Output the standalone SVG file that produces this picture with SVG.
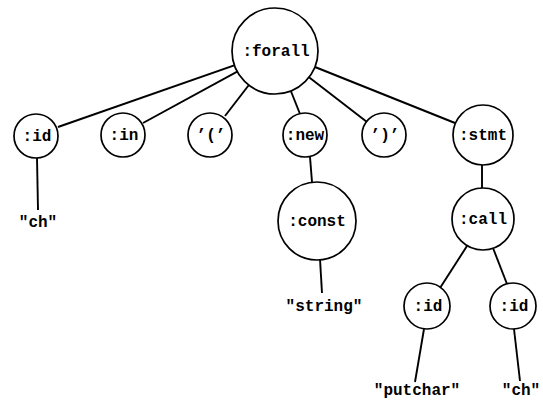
<svg xmlns="http://www.w3.org/2000/svg" width="543" height="401" viewBox="0 0 543 401">
<style>
.n{fill:#fff;stroke:#000;stroke-width:1.7}
.e{stroke:#000;stroke-width:1.9;fill:none}
text{font-family:"Liberation Mono","DejaVu Sans Mono",monospace;font-weight:bold;font-size:16px;text-anchor:middle;fill:#000}
</style>
<rect width="543" height="401" fill="#fff"/>
<g id="connectors">
<line class="e" x1="275" y1="51" x2="58" y2="127"/>
<line class="e" x1="275" y1="51" x2="143" y2="123"/>
<line class="e" x1="275" y1="51" x2="225" y2="116"/>
<line class="e" x1="275" y1="51" x2="300" y2="114"/>
<line class="e" x1="275" y1="51" x2="367" y2="122"/>
<line class="e" x1="275" y1="51" x2="455" y2="123"/>
<line class="e" x1="37" y1="158" x2="38" y2="210"/>
<line class="e" x1="310" y1="157" x2="312" y2="182"/>
<line class="e" x1="482" y1="165" x2="482" y2="189"/>
<line class="e" x1="320" y1="259" x2="322" y2="293"/>
<line class="e" x1="467" y1="246" x2="440" y2="288"/>
<line class="e" x1="493" y1="248" x2="507" y2="284"/>
<line class="e" x1="424" y1="329" x2="415" y2="382"/>
<line class="e" x1="514" y1="329" x2="520" y2="381"/>
</g>
<g id="forall"><circle class="n" cx="275" cy="51" r="43"/><text x="276" y="56">:forall</text></g>
<g id="id1"><circle class="n" cx="36" cy="136" r="22"/><text x="37" y="141">:id</text></g>
<g id="in"><circle class="n" cx="123" cy="135" r="22"/><text x="124" y="140">:in</text></g>
<g id="lparen"><circle class="n" cx="210" cy="135" r="22"/><text x="211" y="140">’(’</text></g>
<g id="new"><circle class="n" cx="305" cy="135" r="22"/><text x="305" y="140">:new</text></g>
<g id="rparen"><circle class="n" cx="384" cy="135" r="22"/><text x="385" y="140">’)’</text></g>
<g id="stmt"><circle class="n" cx="483" cy="135" r="30"/><text x="483" y="140">:stmt</text></g>
<g id="const"><circle class="n" cx="317" cy="221" r="39"/><text x="317" y="226">:const</text></g>
<g id="call"><circle class="n" cx="483" cy="219" r="31"/><text x="483" y="224">:call</text></g>
<g id="id2"><circle class="n" cx="427" cy="306" r="23"/><text x="428" y="311">:id</text></g>
<g id="id3"><circle class="n" cx="513" cy="306" r="23"/><text x="514" y="311">:id</text></g>
<g id="lbl-ch1"><text x="38" y="227">"ch"</text></g>
<g id="lbl-string"><text x="324" y="311">"string"</text></g>
<g id="lbl-putchar"><text x="417" y="395">"putchar"</text></g>
<g id="lbl-ch2"><text x="521" y="395">"ch"</text></g>
</svg>
